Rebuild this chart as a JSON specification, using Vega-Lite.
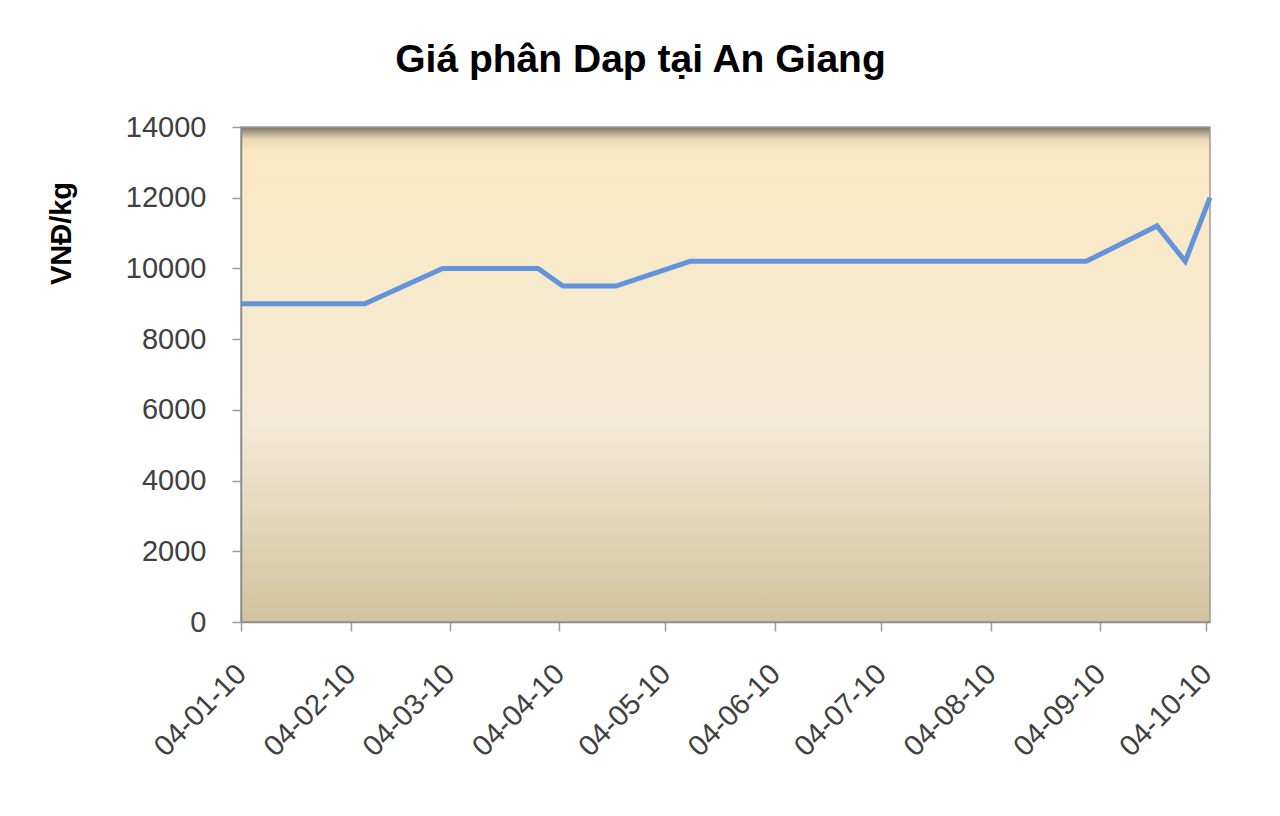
{
  "$schema": "https://vega.github.io/schema/vega-lite/v6.json",
  "autosize": {"type": "none"},
  "padding": {"left": 241, "top": 127, "right": 70, "bottom": 194},
  "width": 969,
  "height": 495,
  "background": "white",
  "title": {
    "text": "Giá phân Dap tại An Giang",
    "font": "Liberation Sans",
    "fontSize": 39,
    "fontWeight": "bold",
    "color": "black",
    "anchor": "middle",
    "dx": -85,
    "offset": 33
  },
  "data": {
    "values": [
      {"date": "2010-01-04", "price": 9000},
      {"date": "2010-02-08", "price": 9000},
      {"date": "2010-03-02", "price": 10000},
      {"date": "2010-03-29", "price": 10000},
      {"date": "2010-04-05", "price": 9500},
      {"date": "2010-04-20", "price": 9500},
      {"date": "2010-05-11", "price": 10200},
      {"date": "2010-08-31", "price": 10200},
      {"date": "2010-09-20", "price": 11200},
      {"date": "2010-09-28", "price": 10200},
      {"date": "2010-10-05", "price": 12000}
    ]
  },
  "mark": {"type": "line", "color": "#6393da", "strokeWidth": 5, "strokeJoin": "miter"},
  "encoding": {
    "x": {
      "field": "date",
      "type": "temporal",
      "title": null,
      "scale": {"type": "utc", "domain": [{"year": 2010, "month": 1, "date": 4, "utc": true}, {"year": 2010, "month": 10, "date": 5, "utc": true}]},
      "axis": {
        "values": [
          {"year": 2010, "month": 1, "date": 4, "utc": true},
          {"year": 2010, "month": 2, "date": 4, "utc": true},
          {"year": 2010, "month": 3, "date": 4, "utc": true},
          {"year": 2010, "month": 4, "date": 4, "utc": true},
          {"year": 2010, "month": 5, "date": 4, "utc": true},
          {"year": 2010, "month": 6, "date": 4, "utc": true},
          {"year": 2010, "month": 7, "date": 4, "utc": true},
          {"year": 2010, "month": 8, "date": 4, "utc": true},
          {"year": 2010, "month": 9, "date": 4, "utc": true},
          {"year": 2010, "month": 10, "date": 4, "utc": true}
        ],
        "format": "%d-%m-%y",
        "labelAngle": -45,
        "labelAlign": "right",
        "labelBaseline": "middle",
        "labelPadding": 38,
        "labelDx": 8,
        "labelFontSize": 29,
        "labelOverlap": false,
        "labelBound": false,
        "labelFlush": false,
        "grid": false
      }
    },
    "y": {
      "field": "price",
      "type": "quantitative",
      "title": "VNĐ/kg",
      "scale": {"domain": [0, 14000]},
      "axis": {
        "values": [0, 2000, 4000, 6000, 8000, 10000, 12000, 14000],
        "format": "d",
        "grid": false,
        "labelFontSize": 29,
        "labelPadding": 26,
        "labelOverlap": false,
        "titleFontSize": 29,
        "titleFontWeight": "bold",
        "titleColor": "black",
        "titleAnchor": "middle",
        "titleX": -165,
        "titleY": 106,
        "titleAngle": -90
      }
    }
  },
  "config": {
    "font": "Liberation Sans",
    "view": {
      "stroke": "#9a9a9a",
      "strokeWidth": 1.5,
      "fill": {
        "gradient": "linear",
        "x1": 0, "y1": 0, "x2": 0, "y2": 1,
        "stops": [
          {"offset": 0, "color": "#7d7362"},
          {"offset": 0.025, "color": "#e9d9b6"},
          {"offset": 0.05, "color": "#fbe8c3"},
          {"offset": 0.6, "color": "#f3ead6"},
          {"offset": 1, "color": "#d2c29d"}
        ]
      }
    },
    "axis": {
      "domainColor": "#8a8a8a",
      "domainWidth": 1.5,
      "tickColor": "#9a9a9a",
      "tickWidth": 1.5,
      "tickSize": 9,
      "labelColor": "#404040",
      "labelFont": "Liberation Sans",
      "titleFont": "Liberation Sans"
    }
  }
}
